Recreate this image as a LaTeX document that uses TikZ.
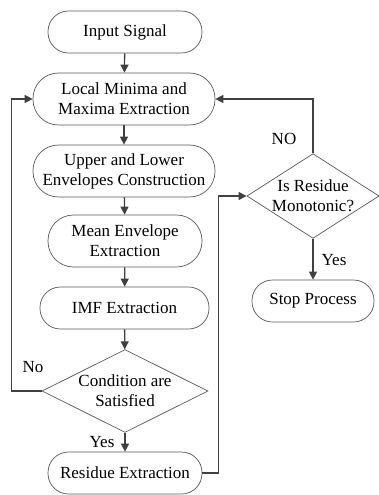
\documentclass[tikz,border=0pt]{standalone}
\usepackage{fontspec}
\setmainfont{Liberation Serif}
\usetikzlibrary{arrows.meta,shapes.geometric}

\begin{document}
\begin{tikzpicture}[x=1pt,y=-1pt,
    font=\fontsize{17}{20}\selectfont,
    >={Triangle[length=8pt,width=8pt]}]
\useasboundingbox (0,0) rectangle (378,495);

\begin{scope}[every node/.style={rectangle,draw=black!65,line width=0.7pt,
    rounded corners=20.5pt,minimum height=42pt,inner sep=0pt,align=center}]
    \node[minimum width=154pt] (input) at (125,32) {Input Signal};
    \node[minimum width=182pt,minimum height=52pt,rounded corners=25.5pt] (extrema) at (124,99) {Local Minima and\\Maxima Extraction};
    \node[minimum width=182pt,minimum height=52pt,rounded corners=25.5pt] (envel) at (124,171) {Upper and Lower\\Envelopes Construction};
    \node[minimum width=154pt,minimum height=52pt,rounded corners=25.5pt] (mean) at (125,241) {Mean Envelope\\Extraction};
    \node[minimum width=169pt] (imf) at (124.5,308) {IMF Extraction};
    \node[minimum width=154pt] (residue) at (125,473) {Residue Extraction};
    \node[minimum width=122pt] (stop) at (313,301) {Stop Process};
\end{scope}

\begin{scope}[every node/.style={diamond,draw=black!65,line width=0.7pt,
    inner sep=0pt,align=center}]
    \node[aspect=2,inner sep=1.5pt] (cond) at (125,391) {Condition are\\Satisfied};
    \node[aspect=1.56] (mono) at (313,196) {Is Residue\\Monotonic?};
\end{scope}

\node (no1) at (33,367) {No};
\node (yes1) at (102,442) {Yes};
\node (no2) at (284,139) {NO};
\node (yes2) at (334,260) {Yes};

\begin{scope}[every edge/.style={draw=black!75,line width=1.3pt}]
    \path [->] (input) edge (extrema);
    \path [->] (extrema) edge (envel);
    \path [->] (envel) edge (mean);
    \path [->] (mean) edge (imf);
    \path [->] (imf) edge (cond);
    \path [->] (cond) edge (residue);
    \path [->] (mono) edge (stop);
\end{scope}

\draw [->,draw=black!75,line width=1.3pt] (cond.west) -- ++(-30,0) |- (extrema.west);
\draw [->,draw=black!75,line width=1.3pt] (residue.east) -- ++(16,0) |- (mono.west);
\draw [->,draw=black!75,line width=1.3pt] (mono.north) |- (extrema.east);
\end{tikzpicture}
\end{document}
